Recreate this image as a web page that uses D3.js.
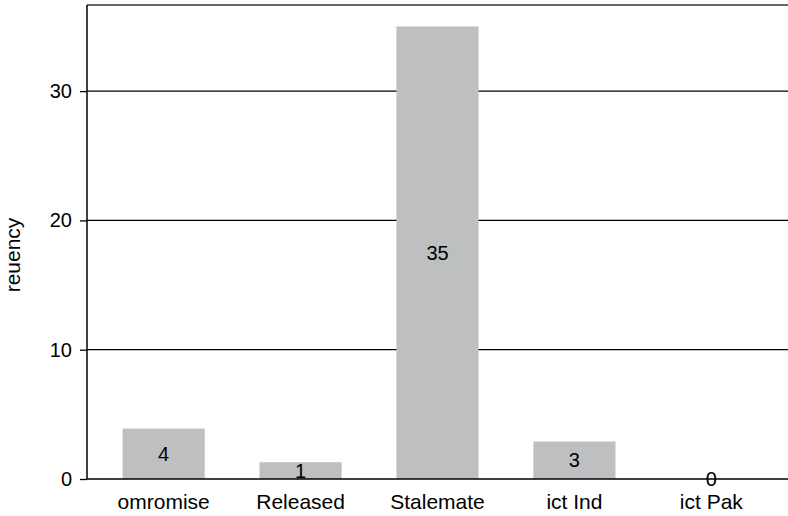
<!DOCTYPE html>
<html>
<head>
<meta charset="utf-8">
<script src="https://cdn.jsdelivr.net/npm/d3@7"></script>
<style>
body { margin: 0; background: #fff; }
text { font-family: "Liberation Sans", Arial, Helvetica, sans-serif; }
</style>
</head>
<body>
<div id="chart"></div>
<script>
// categories on the x axis (as printed)
var categories = ["omromise", "Released", "Stalemate", "ict Ind", "ict Pak"];
// bar heights, labels are the rounded values
var counts = [3.9, 1.3, 35, 2.9, 0];
var yTicks = [0, 10, 20, 30];
var yTitle = "reuency";

var width = 788, height = 516;
var margin = { top: 5, right: 0, bottom: 37, left: 87 };

var svg = d3.select("#chart")
    .append("svg")
    .attr("width", width)
    .attr("height", height);

var x = d3.scaleBand()
    .domain(categories)
    .range([margin.left, width - margin.right])
    .paddingInner(0.4)
    .paddingOuter(0.26);

var y = d3.scaleLinear()
    .domain([0, 36.66])
    .range([height - margin.bottom, margin.top]);

// grid lines at each tick
svg.append("g")
    .selectAll("line")
    .data(yTicks.slice(1))
    .enter()
    .append("line")
    .attr("x1", margin.left)
    .attr("x2", width)
    .attr("y1", function (d) { return y(d); })
    .attr("y2", function (d) { return y(d); })
    .attr("stroke", "#000")
    .attr("stroke-width", 1.3);

// top border
svg.append("line")
    .attr("x1", margin.left)
    .attr("x2", width)
    .attr("y1", margin.top)
    .attr("y2", margin.top)
    .attr("stroke", "#333")
    .attr("stroke-width", 1.3);

// bars
svg.append("g")
    .selectAll("rect")
    .data(counts)
    .enter()
    .append("rect")
    .attr("x", function (d, i) { return x(categories[i]); })
    .attr("y", function (d) { return y(d); })
    .attr("width", x.bandwidth())
    .attr("height", function (d) { return y(0) - y(d); })
    .attr("fill", "#bebfc1");

// y axis
var yAxis = svg.append("g")
    .attr("transform", "translate(" + margin.left + ",0)")
    .call(d3.axisLeft(y).tickValues(yTicks).tickSize(7).tickPadding(8).tickSizeOuter(0));
yAxis.select(".domain").remove();
yAxis.selectAll(".tick line").attr("stroke", "#000").attr("stroke-width", 1.3);
yAxis.selectAll(".tick text")
    .attr("font-size", "20px")
    .attr("fill", "#000")
    .style("font-family", "'Liberation Sans', Arial, sans-serif");

svg.append("line")
    .attr("x1", margin.left)
    .attr("x2", margin.left)
    .attr("y1", margin.top)
    .attr("y2", y(0))
    .attr("stroke", "#000")
    .attr("stroke-width", 1.5);

// x axis
var xAxis = svg.append("g")
    .attr("transform", "translate(0," + y(0) + ")")
    .call(d3.axisBottom(x).tickSize(0).tickPadding(15));
xAxis.select(".domain")
    .attr("stroke", "#000")
    .attr("stroke-width", 1.5)
    .attr("d", "M" + margin.left + ",0H" + width);
xAxis.selectAll(".tick text")
    .attr("font-size", "21px")
    .attr("fill", "#000")
    .style("font-family", "'Liberation Sans', Arial, sans-serif");

// value labels in the middle of the bars
svg.append("g")
    .selectAll("text")
    .data(counts)
    .enter()
    .append("text")
    .attr("x", function (d, i) { return x(categories[i]) + x.bandwidth() / 2; })
    .attr("y", function (d) { return (y(d) + y(0)) / 2; })
    .attr("dy", "0.36em")
    .attr("text-anchor", "middle")
    .attr("font-size", "20px")
    .attr("fill", "#000")
    .text(function (d) { return Math.round(d); });

// y title
svg.append("text")
    .attr("transform", "translate(20," + ((y(0) + margin.top) / 2 + 13) + ") rotate(-90)")
    .attr("text-anchor", "middle")
    .attr("font-size", "21px")
    .attr("fill", "#000")
    .text(yTitle);
</script>
</body>
</html>
